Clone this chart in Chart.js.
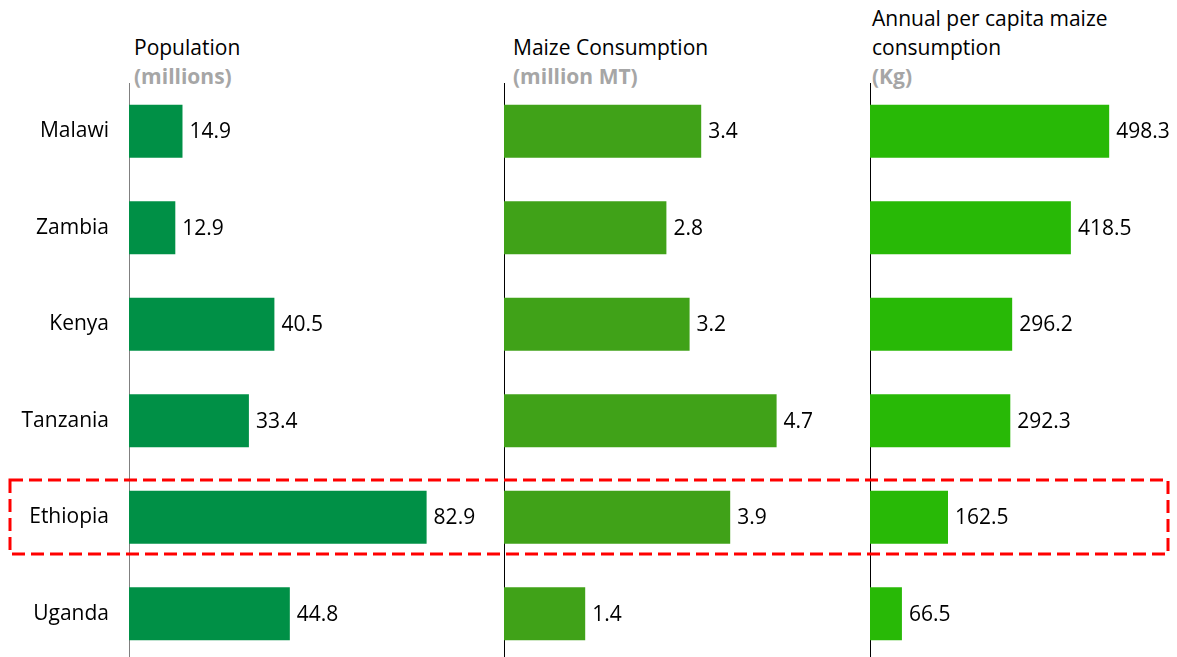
<!DOCTYPE html>
<html>
<head>
<meta charset="utf-8">
<script src="https://cdn.jsdelivr.net/npm/chart.js@4.4.1/dist/chart.umd.min.js"></script>
<style>
  html, body { margin: 0; padding: 0; overflow: hidden; background: #fff; }
  body { width: 1177px; height: 657px; position: relative; font-family: "Open Sans", sans-serif; }
  canvas { position: absolute; }
  .title { position: absolute; font-size: 21px; line-height: 29px; color: #000; white-space: nowrap; }
  .title .unit { color: #a6a6a6; font-weight: bold; }
  svg { position: absolute; left: 0; top: 0; }
</style>
</head>
<body>
<div class="title" style="left:134px; top:33px;">Population<br><span class="unit">(millions)</span></div>
<div class="title" style="left:513px; top:33px;">Maize Consumption<br><span class="unit">(million MT)</span></div>
<div class="title" style="left:872px; top:4px;">Annual per capita maize<br>consumption<br><span class="unit">(Kg)</span></div>

<canvas id="popChart" style="left:0px; top:83px;" width="488" height="579"></canvas>
<canvas id="maizeChart" style="left:480px; top:83px;" width="372" height="579"></canvas>
<canvas id="capitaChart" style="left:850px; top:83px;" width="332" height="579"></canvas>

<svg width="1177" height="657">
  <rect x="10" y="480" width="1158" height="74" fill="none" stroke="#ff0000" stroke-width="3" stroke-dasharray="13 6"></rect>
</svg>

<script>
const countries = ["Malawi", "Zambia", "Kenya", "Tanzania", "Ethiopia", "Uganda"];
const population = [14.9, 12.9, 40.5, 33.4, 82.9, 44.8];
const maizeConsumption = [3.4, 2.8, 3.2, 4.7, 3.9, 1.4];
const perCapitaConsumption = [498.3, 418.5, 296.2, 292.3, 162.5, 66.5];

Chart.defaults.font.family = "'Open Sans', sans-serif";
Chart.defaults.font.size = 21;
Chart.defaults.color = "#000";

// draws the value at the end of every bar
const valueLabels = {
  id: "valueLabels",
  afterDatasetsDraw(chart) {
    const ctx = chart.ctx;
    const meta = chart.getDatasetMeta(0);
    const values = chart.data.datasets[0].data;
    ctx.save();
    ctx.font = "21px 'Open Sans', sans-serif";
    ctx.fillStyle = "#000";
    ctx.textAlign = "left";
    ctx.textBaseline = "middle";
    meta.data.forEach((bar, i) => {
      ctx.fillText(values[i].toFixed(1), bar.x + 7, bar.y + 1);
    });
    ctx.restore();
  },
};

const makeChart = (id, values, color, max, axisWidth, showLabels, axisColor) => {
  return new Chart(document.getElementById(id), {
    type: "bar",
    data: {
      labels: countries,
      datasets: [
        {
          data: values,
          backgroundColor: color,
          borderWidth: 0,
          barPercentage: 0.55,
          categoryPercentage: 1,
        },
      ],
    },
    options: {
      indexAxis: "y",
      responsive: false,
      animation: false,
      layout: { padding: 0 },
      plugins: {
        legend: { display: false },
        tooltip: { enabled: false },
      },
      scales: {
        x: {
          display: false,
          min: 0,
          max: max,
        },
        y: {
          grid: { display: false, drawTicks: false },
          border: { display: true, color: axisColor, width: 1 },
          ticks: {
            display: showLabels,
            padding: 20,
            color: "#000",
            font: { size: 21 },
          },
          afterFit: (scale) => {
            scale.width = axisWidth;
            scale.paddingTop = 0;
            scale.paddingBottom = 0;
          },
        },
      },
    },
    plugins: [valueLabels],
  });
};

makeChart("popChart", population, "#009046", 100, 129, true, "#808080");
makeChart("maizeChart", maizeConsumption, "#40a218", 6, 24, false, "#000");
makeChart("capitaChart", perCapitaConsumption, "#28b906", 650, 20, false, "#000");
</script>
</body>
</html>
